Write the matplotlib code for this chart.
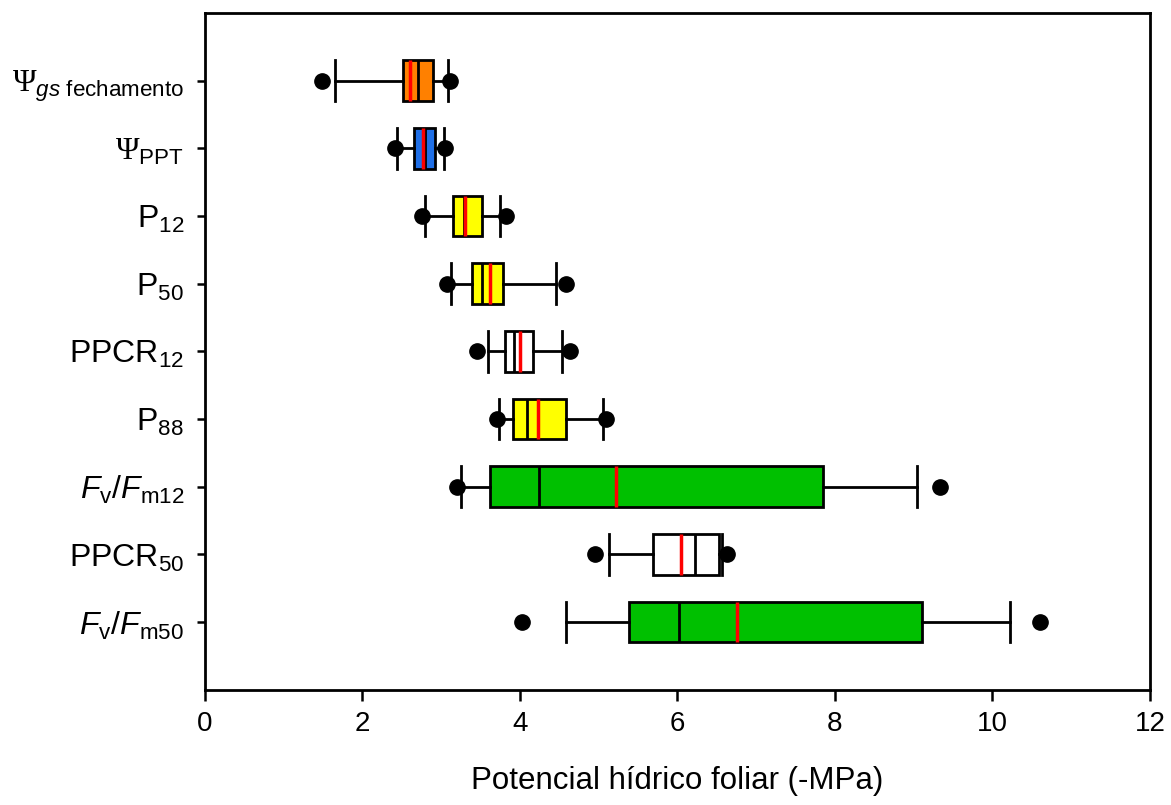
import matplotlib
matplotlib.use("Agg")
import matplotlib.pyplot as plt

plt.rcParams['font.family'] = ['Liberation Sans', 'DejaVu Sans']
plt.rcParams['mathtext.fontset'] = 'custom'
plt.rcParams['mathtext.rm'] = 'Liberation Sans'
plt.rcParams['mathtext.it'] = 'Liberation Sans:italic'
plt.rcParams['mathtext.bf'] = 'Liberation Sans:bold'
plt.rcParams['mathtext.sf'] = 'Liberation Serif'

# categories (top to bottom)
labels = [r'$\mathsf{\Psi}_{gs\ \mathrm{fechamento}}$', r'$\mathsf{\Psi}_{\mathrm{PPT}}$',
          r'$\mathrm{P}_{12}$', r'$\mathrm{P}_{50}$', r'$\mathrm{PPCR}_{12}$',
          r'$\mathrm{P}_{88}$', r'$F_{\mathrm{v}}/F_{\mathrm{m12}}$',
          r'$\mathrm{PPCR}_{50}$', r'$F_{\mathrm{v}}/F_{\mathrm{m50}}$']

# summary values (-MPa)
whis_lo = [1.65, 2.44, 2.79, 3.13, 3.59, 3.74, 3.25, 5.13, 4.59]
q1 = [2.51, 2.65, 3.15, 3.39, 3.81, 3.91, 3.62, 5.69, 5.38]
median = [2.71, 2.79, 3.29, 3.52, 3.92, 4.09, 4.24, 6.22, 6.02]
mean = [2.61, 2.77, 3.30, 3.62, 4.00, 4.23, 5.22, 6.05, 6.76]
q3 = [2.89, 2.92, 3.52, 3.79, 4.17, 4.58, 7.85, 6.53, 9.11]
whis_hi = [3.09, 3.03, 3.75, 4.46, 4.54, 5.06, 9.04, 6.57, 10.22]
out_lo = [1.49, 2.42, 2.76, 3.07, 3.46, 3.71, 3.20, 4.95, 4.03]
out_hi = [3.11, 3.05, 3.82, 4.59, 4.63, 5.09, 9.33, 6.63, 10.61]
colors = ['#FF8000', '#1F6FE6', '#FFFF00', '#FFFF00', '#FFFFFF',
          '#FFFF00', '#00C000', '#FFFFFF', '#00C000']

stats = []
for i in range(len(labels)):
    stats.append({
        'label': labels[i], 'whislo': whis_lo[i], 'q1': q1[i], 'med': median[i],
        'mean': mean[i], 'q3': q3[i], 'whishi': whis_hi[i],
        'fliers': [out_lo[i], out_hi[i]],
    })

fig = plt.figure(figsize=(11.71, 8.05), dpi=100)
ax = fig.add_axes([0.175, 0.143, 0.807, 0.841])

positions = list(range(1, len(labels) + 1))
bp = ax.bxp(stats, positions=positions, vert=False, widths=0.6,
            capwidths=0.6, patch_artist=True, showmeans=True, meanline=True,
            boxprops=dict(linewidth=2.0, edgecolor='black'),
            medianprops=dict(color='black', linewidth=2.0),
            meanprops=dict(color='red', linestyle='-', linewidth=2.5),
            whiskerprops=dict(color='black', linewidth=2.0),
            capprops=dict(color='black', linewidth=2.0),
            flierprops=dict(marker='o', markerfacecolor='black',
                            markeredgecolor='black', markersize=11))
for patch, c in zip(bp['boxes'], colors):
    patch.set_facecolor(c)

ax.set_xlim(0, 12)
ax.set_ylim(10, 0)
ax.set_xticks([0, 2, 4, 6, 8, 10, 12])
ax.set_yticks(positions)
ax.set_yticklabels(labels)

ax.tick_params(axis='y', labelsize=23, length=6, width=1.8, pad=9)
ax.tick_params(axis='x', labelsize=20, length=8, width=1.8, pad=7)
for s in ax.spines.values():
    s.set_linewidth(2)

ax.set_xlabel('Potencial hídrico foliar (-MPa)', fontsize=22.5, labelpad=21)

fig.savefig('out.png', dpi=100)
